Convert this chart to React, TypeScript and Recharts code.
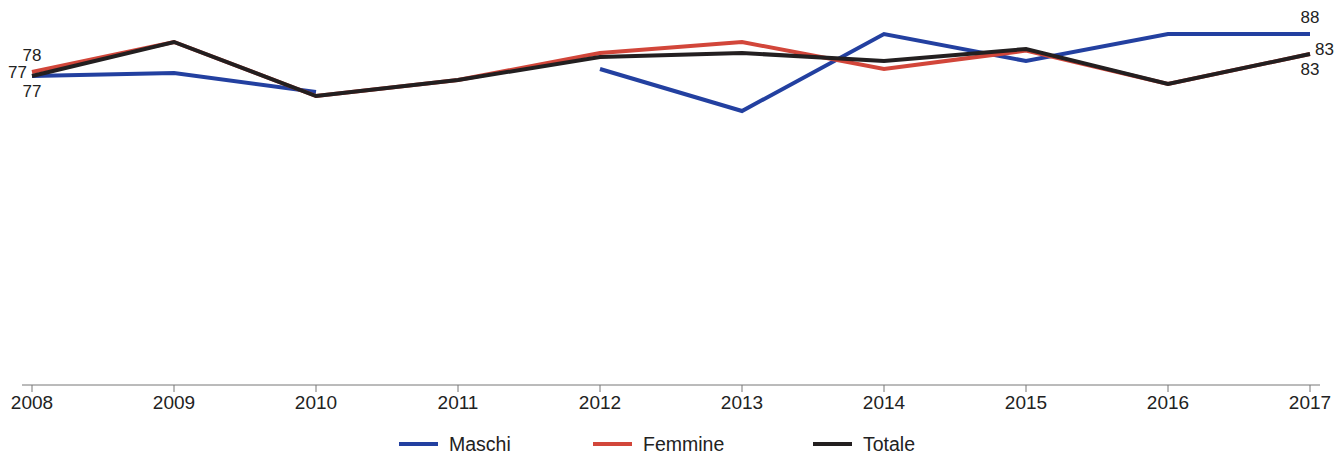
import { LineChart, Line, XAxis, YAxis, LabelList } from "recharts";

const years = ["2008", "2009", "2010", "2011", "2012", "2013", "2014", "2015", "2016", "2017"];
const maschi = [77.25, 78, 73.25, null, 79, 68.5, 87.75, 81, 87.75, 87.75];
const femmine = [78.25, 85.75, 72.25, 76.25, 83, 85.75, 79, 83.6, 75.25, 82.75];
const totale = [77.25, 85.75, 72.25, 76.25, 82, 83, 81, 84, 75.25, 82.75];

const BLUE = "#2340a0";
const RED = "#d2463a";
const BLACK = "#231f20";
const FONT = "'Liberation Sans', Arial, sans-serif";

const data = years.map((year, i) => ({
  year,
  maschi: maschi[i],
  femmine: femmine[i],
  totale: totale[i],
}));

type Placement = "above" | "below" | "left" | "right";

// which end labels each series shows, and where they sit
const endLabel =
  (first: Placement, last: Placement) =>
  (props: any) => {
    const { x, y, value, index } = props;
    if (value == null) return null;
    let where: Placement | null = null;
    if (index === 0) where = first;
    if (index === years.length - 1) where = last;
    if (!where) return null;
    let tx = x;
    let ty = y;
    let anchor: "middle" | "end" | "start" = "middle";
    if (where === "above") ty = y - 15;
    if (where === "below") ty = y + 17;
    if (where === "left") {
      tx = x - 5;
      anchor = "end";
      ty = y - 2;
    }
    if (where === "right") {
      tx = x + 5;
      anchor = "start";
      ty = y - 3;
    }
    return (
      <text
        x={tx}
        y={ty}
        textAnchor={anchor}
        dominantBaseline="middle"
        fontSize={17}
        fill="#222"
        fontFamily={FONT}
      >
        {Math.round(value)}
      </text>
    );
  };

const legendItems = [
  { label: "Maschi", color: BLUE, left: 399 },
  { label: "Femmine", color: RED, left: 593 },
  { label: "Totale", color: BLACK, left: 813 },
];

export default function App() {
  return (
    <div style={{ position: "absolute", left: 0, top: 0, width: 1336, height: 455, background: "#fff", overflow: "hidden" }}>
      <LineChart
        width={1336}
        height={425}
        data={data}
        margin={{ top: 1, right: 16, left: 22, bottom: 0 }}
      >
        <XAxis
          dataKey="year"
          height={40}
          padding={{ left: 10, right: 10 }}
          stroke="#777"
          tickSize={7}
          tickMargin={4}
          tick={{ fill: "#222", fontSize: 19, fontFamily: FONT }}
          interval={0}
        />
        <YAxis hide domain={[0, 96]} />
        <Line
          dataKey="maschi"
          stroke={BLUE}
          strokeWidth={4}
          dot={false}
          isAnimationActive={false}
        >
          <LabelList dataKey="maschi" content={endLabel("below", "above")} />
        </Line>
        <Line
          dataKey="femmine"
          stroke={RED}
          strokeWidth={4}
          dot={false}
          isAnimationActive={false}
        >
          <LabelList dataKey="femmine" content={endLabel("above", "below")} />
        </Line>
        <Line
          dataKey="totale"
          stroke={BLACK}
          strokeWidth={4}
          dot={false}
          isAnimationActive={false}
        >
          <LabelList dataKey="totale" content={endLabel("left", "right")} />
        </Line>
      </LineChart>
      {legendItems.map((item) => (
        <div
          key={item.label}
          style={{
            position: "absolute",
            left: item.left,
            top: 433,
            height: 22,
            lineHeight: "22px",
            display: "flex",
            alignItems: "center",
            fontFamily: FONT,
            fontSize: 19.5,
            color: "#222",
          }}
        >
          <span style={{ display: "inline-block", width: 39, height: 4, background: item.color, marginRight: 11 }} />
          {item.label}
        </div>
      ))}
    </div>
  );
}
